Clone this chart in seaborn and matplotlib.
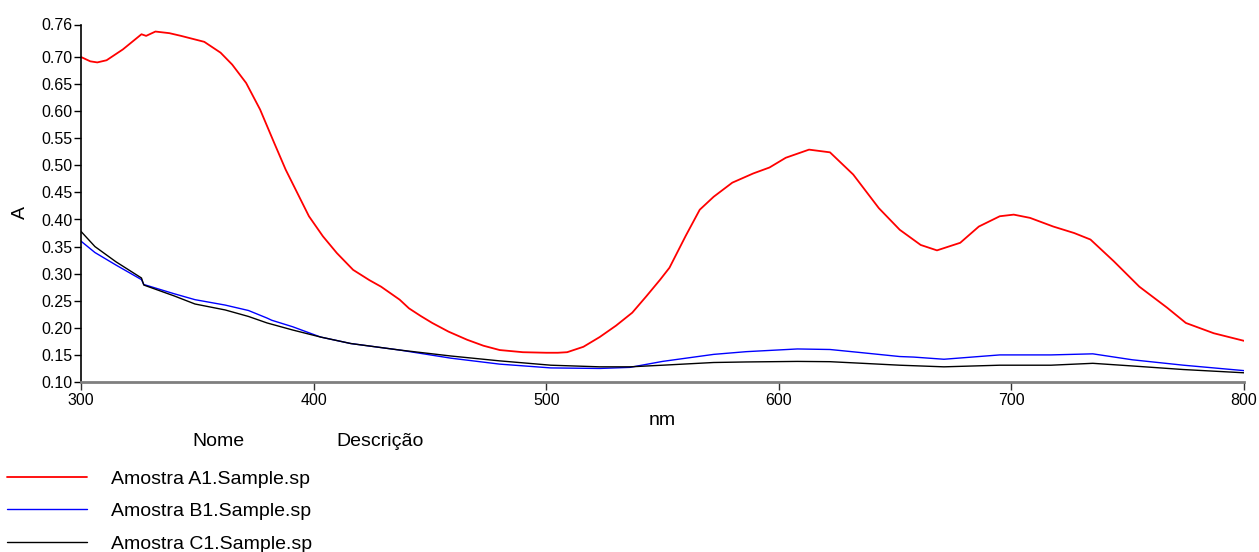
import numpy as np
import pandas as pd
import matplotlib
matplotlib.use("Agg")
import matplotlib.pyplot as plt
import seaborn as sns

# ---- data ----
a1_nm = [300, 304, 307, 311, 318, 326, 328, 332, 338, 343, 353, 360, 365, 371, 377,
         383, 388, 393, 398, 404, 410, 417, 424, 429, 437, 441, 446, 451, 458, 466,
         473, 480, 490, 500, 505, 509, 516, 523, 530, 537, 543, 549, 553, 560, 566,
         572, 580, 589, 596, 603, 613, 622, 632, 643, 652, 661, 668, 678, 686, 695,
         701, 708, 718, 727, 734, 744, 755, 767, 775, 787, 800]
a1_abs = [0.700, 0.692, 0.690, 0.694, 0.714, 0.742, 0.739, 0.747, 0.744, 0.739, 0.728,
          0.708, 0.686, 0.652, 0.603, 0.542, 0.492, 0.449, 0.406, 0.369, 0.338, 0.307,
          0.288, 0.276, 0.252, 0.236, 0.222, 0.209, 0.193, 0.178, 0.167, 0.159, 0.155,
          0.154, 0.154, 0.155, 0.165, 0.183, 0.204, 0.228, 0.258, 0.289, 0.311, 0.370,
          0.418, 0.442, 0.468, 0.485, 0.496, 0.514, 0.529, 0.524, 0.483, 0.421, 0.381,
          0.353, 0.343, 0.357, 0.387, 0.406, 0.409, 0.403, 0.387, 0.375, 0.363, 0.323,
          0.276, 0.237, 0.209, 0.190, 0.176]

b1_nm = [300, 306, 315, 326, 327, 340, 349, 362, 372, 380, 382, 391, 403, 416, 437,
         459, 480, 502, 523, 536, 550, 572, 586, 608, 622, 636, 652, 658, 671, 695,
         717, 735, 752, 774, 800]
b1_abs = [0.360, 0.339, 0.316, 0.289, 0.280, 0.263, 0.252, 0.242, 0.232, 0.218, 0.214,
          0.202, 0.183, 0.171, 0.159, 0.144, 0.133, 0.126, 0.125, 0.127, 0.138, 0.151,
          0.156, 0.161, 0.160, 0.154, 0.147, 0.146, 0.142, 0.150, 0.150, 0.152, 0.141,
          0.131, 0.121]

c1_nm = [300, 306, 315, 326, 327, 340, 349, 362, 372, 380, 391, 403, 416, 437, 459,
         480, 502, 523, 536, 550, 572, 586, 608, 622, 636, 652, 671, 695, 717, 735,
         752, 774, 800]
c1_abs = [0.378, 0.350, 0.322, 0.292, 0.279, 0.259, 0.244, 0.233, 0.221, 0.209, 0.196,
          0.183, 0.171, 0.159, 0.148, 0.139, 0.131, 0.128, 0.128, 0.131, 0.136, 0.137,
          0.138, 0.1375, 0.1345, 0.131, 0.128, 0.131, 0.131, 0.1345, 0.1296, 0.123, 0.117]

names = ["Amostra A1.Sample.sp", "Amostra B1.Sample.sp", "Amostra C1.Sample.sp"]
colors = {names[0]: "#ff0000", names[1]: "#0000ff", names[2]: "#000000"}

x_ticks = [300, 400, 500, 600, 700, 800]
y_ticks = [0.10, 0.15, 0.20, 0.25, 0.30, 0.35, 0.40, 0.45, 0.50, 0.55, 0.60, 0.65, 0.70, 0.76]

df = pd.concat([
    pd.DataFrame({"nm": a1_nm, "A": a1_abs, "Nome": names[0]}),
    pd.DataFrame({"nm": b1_nm, "A": b1_abs, "Nome": names[1]}),
    pd.DataFrame({"nm": c1_nm, "A": c1_abs, "Nome": names[2]}),
], ignore_index=True)

sns.set_style("white")
plt.rcParams["font.family"] = ["Liberation Sans", "DejaVu Sans"]
plt.rcParams["text.color"] = "black"
plt.rcParams["axes.labelcolor"] = "black"

fig = plt.figure(figsize=(12.59, 5.52), dpi=100)
ax = fig.add_axes([81 / 1259, 1 - 382 / 552, (1244 - 81) / 1259, (382 - 24.5) / 552])

sns.lineplot(data=df, x="nm", y="A", hue="Nome", palette=colors, hue_order=names,
             estimator=None, sort=True, linewidth=1.1, ax=ax, legend=False)
for ln, lw in zip(ax.get_lines(), [1.3, 1.0, 1.0]):
    ln.set_linewidth(lw)

ax.set_xlim(300, 800)
ax.set_ylim(0.10, 0.76)
ax.set_xticks(x_ticks)
ax.set_xticklabels([str(t) for t in x_ticks])
ax.set_yticks(y_ticks)
ax.set_yticklabels([f"{t:.2f}" for t in y_ticks])

for s in ["top", "right"]:
    ax.spines[s].set_visible(False)
ax.spines["left"].set_color("black")
ax.spines["left"].set_linewidth(1.2)
ax.spines["bottom"].set_color("#7f7f7f")
ax.spines["bottom"].set_linewidth(2.0)
ax.tick_params(axis="y", direction="out", length=5, width=1, pad=1,
               labelsize=11.5, colors="black", left=True)
ax.tick_params(axis="x", direction="out", length=6, width=1, pad=2,
               labelsize=11.5, colors="#303030", labelcolor="black", bottom=True)

ax.set_xlabel("nm", fontsize=14, color="black")
ax.set_ylabel("A", fontsize=14, color="black")
ax.xaxis.set_label_coords(0.5, -0.085)
ax.yaxis.set_label_coords(-0.045, 0.475)

# legend below the plot
handles = ax.get_lines()[:3]
fig.text(218 / 1259, 1 - 441 / 552, "Nome", ha="center", va="center", fontsize=14, color="black")
fig.text(380 / 1259, 1 - 441 / 552, "Descrição", ha="center", va="center", fontsize=14, color="black")
leg = fig.legend(handles, names, loc="upper left",
                 bbox_to_anchor=(3 / 1259, 1 - 466 / 552),
                 frameon=False, fontsize=14, handlelength=4.1, handletextpad=1.25,
                 labelspacing=0.78, borderpad=0.2, borderaxespad=0, labelcolor="black")

fig.savefig("out.png", dpi=100)
